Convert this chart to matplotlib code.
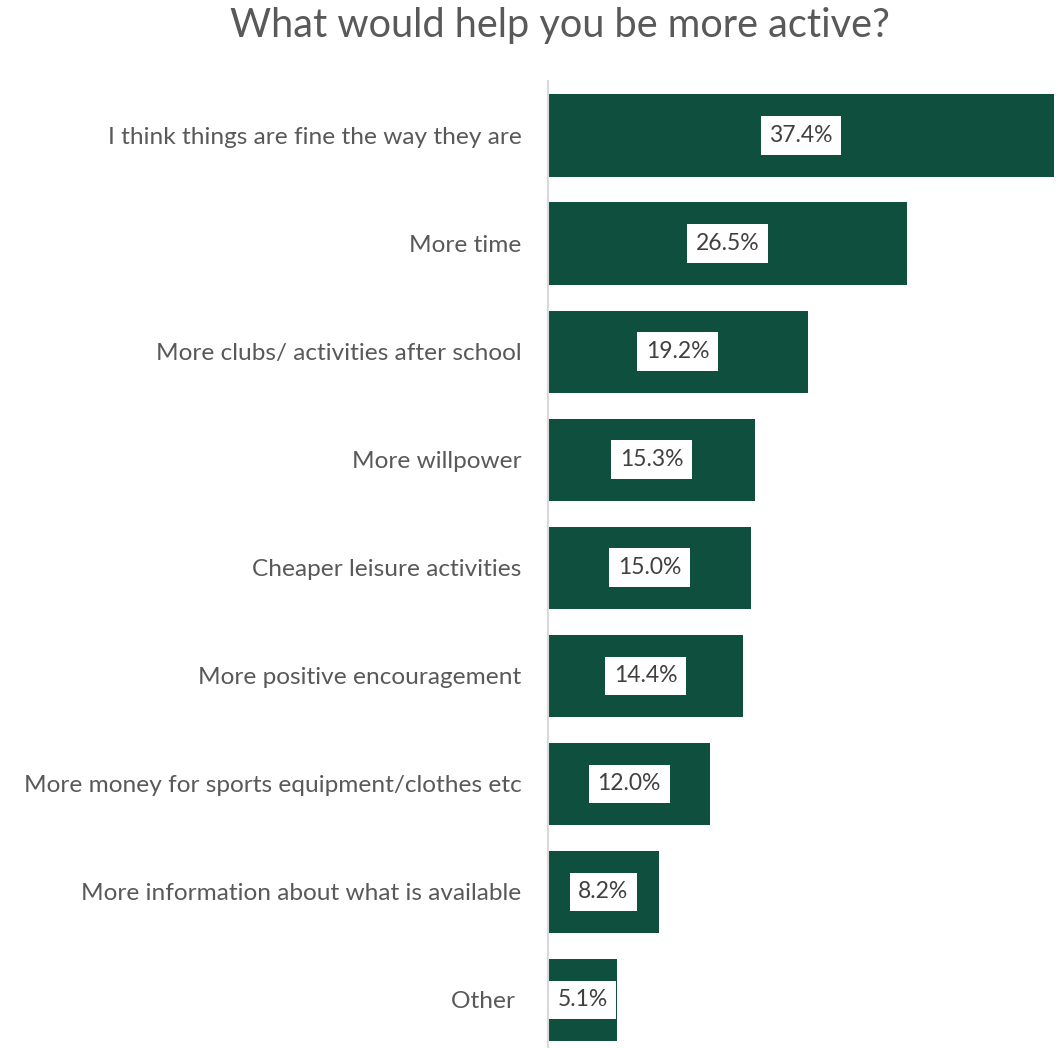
import matplotlib.pyplot as plt
import numpy as np

categories = ["I think things are fine the way they are", "More time",
              "More clubs/ activities after school", "More willpower",
              "Cheaper leisure activities", "More positive encouragement",
              "More money for sports equipment/clothes etc",
              "More information about what is available", "Other "]
values = [37.4, 26.5, 19.2, 15.3, 15.0, 14.4, 12.0, 8.2, 5.1]

plt.rcParams['font.family'] = ['Lato', 'DejaVu Sans']

fig = plt.figure(figsize=(10.58, 10.48), dpi=100)
ax = fig.add_axes([548/1058, 0.0005, 506/1058, 0.9218])

y = np.arange(len(categories))
ax.barh(y, values, height=0.76, color="#0F4F3E")
ax.set_xlim(0, 37.4)
ax.set_ylim(8.44, -0.5)

for yi, v in zip(y, values):
    ax.text(v/2, yi, f"{v:.1f}%", ha="center", va="center", fontsize=16.5, color="#404040",
            bbox=dict(facecolor="white", edgecolor="none", boxstyle="square,pad=0.38"))

ax.set_yticks(y)
ax.set_yticklabels(categories, fontsize=17.6, color="#595959")
ax.tick_params(axis="y", length=0, pad=19)
ax.set_xticks([])
for s in ["top", "right", "bottom"]:
    ax.spines[s].set_visible(False)
ax.spines["left"].set_color("#D9D9D9")
ax.spines["left"].set_linewidth(1.5)

fig.text(560/1058, 1-25/1048, "What would help you be more active?", ha="center", va="center",
         fontsize=28.6, color="#595959")

fig.savefig("out.png", dpi=100)
